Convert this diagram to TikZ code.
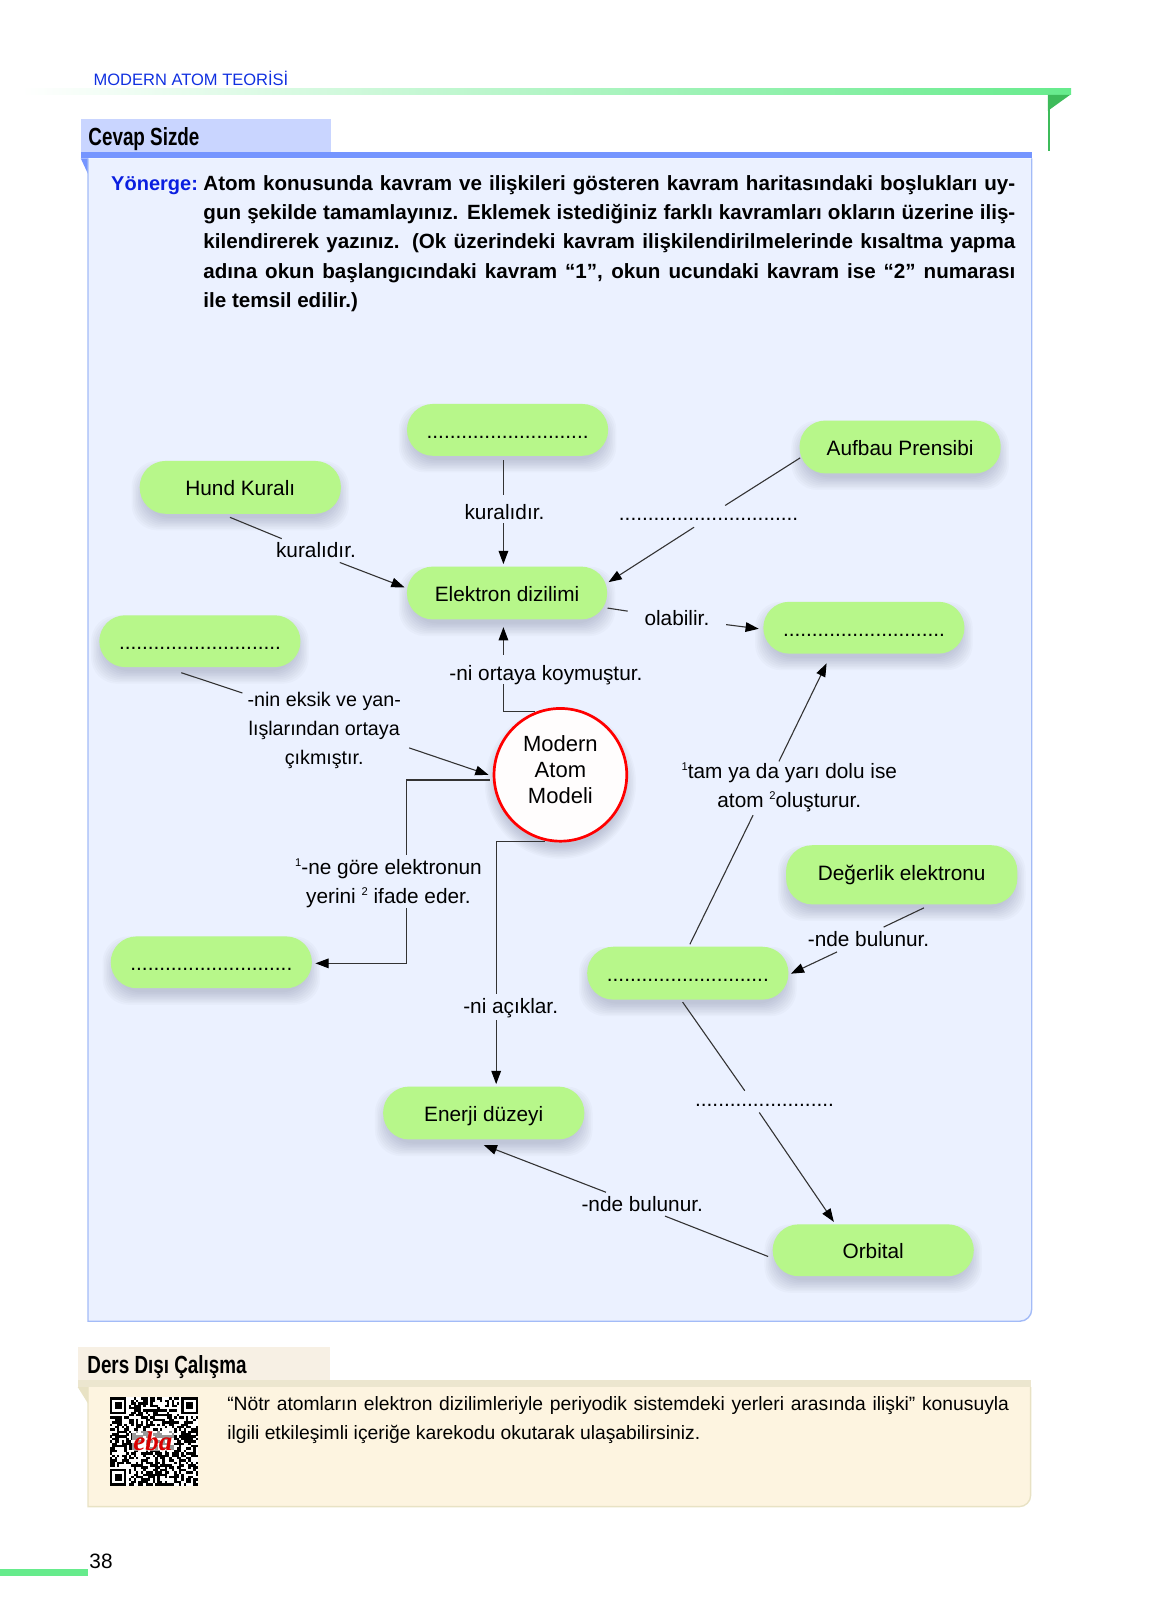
\documentclass[tikz,border=0pt]{standalone}
\usepackage{fontspec}
\setmainfont{Liberation Sans}
\newfontfamily\condfont[FakeStretch=0.76]{Liberation Sans}
\newfontfamily\serifit{Liberation Serif}
\usetikzlibrary{calc,arrows.meta,fadings}
\definecolor{pillgreen}{HTML}{B7F78A}
\definecolor{bargreen}{HTML}{66EB8C}
\definecolor{darkgreen}{HTML}{3DBB5A}
\definecolor{bandblue}{HTML}{7595FF}
\definecolor{tabblue}{HTML}{C9D5FF}
\definecolor{panelblue}{HTML}{EBF1FF}
\definecolor{edgeblue}{HTML}{A3BBF7}
\definecolor{headblue}{HTML}{1030E0}
\definecolor{taskblue}{HTML}{0A1EE0}
\definecolor{tabcream}{HTML}{F7F0E4}
\definecolor{bandcream}{HTML}{ECE6CF}
\definecolor{panelcream}{HTML}{FDF4E0}
\definecolor{edgecream}{HTML}{E8E2C4}
\definecolor{ink}{HTML}{333333}
\definecolor{shadecol}{HTML}{3A4060}
\newdimen\uu
\uu=0.5185pt
\newcommand\bodyfont{\fontsize{10.3}{14.6}\selectfont\bfseries}
\newcommand\labelfont{\fontsize{10.4}{14.5}\selectfont}
\newcommand\upnum[1]{\raisebox{0.42em}{\fontsize{5.6}{6}\selectfont #1}}
\tikzset{
  pillbox/.style={fill=pillgreen,rounded corners=25\uu,inner sep=0pt,font=\labelfont,align=center,text height=10pt,text depth=1.5pt},
  lbl/.style={inner sep=0pt,font=\labelfont,align=center,text=black},
  link/.style={draw=ink,line width=0.55pt},
  arrowlink/.style={link,-{Triangle[length=6.6pt,width=4.8pt,black]}},
  bodyline/.style={anchor=base west,inner sep=0pt,font=\bodyfont},
  noteline/.style={anchor=base west,inner sep=0pt,font=\fontsize{9.65}{14}\selectfont},
}
% #1 name, #2 x1, #3 y1, #4 x2, #5 y2, #6 text
\newcommand\softshade[4]{%
  \foreach \r in {-4,-2.5,...,8}{%
    \fill[shadecol,opacity=0.028,rounded corners=25\uu]
      (#1-\r,#2+8-\r) rectangle (#3+\r,#4+8+\r);}}
\newcommand\pillnode[6]{%
  \softshade{#2}{#3}{#4}{#5}%
  \pgfmathsetmacro\pw{#4-#2}\pgfmathsetmacro\ph{#5-#3}%
  \pgfmathsetmacro\px{(#2+#4)/2}\pgfmathsetmacro\py{(#3+#5)/2}%
  \node[pillbox,minimum width=\pw\uu,minimum height=\ph\uu] (#1) at (\px,\py) {#6};}
\begin{document}
\begin{tikzpicture}[x=0.999\uu,y=-0.999\uu]
\useasboundingbox (0,0) rectangle (1112.1,1567.8);
% page header
\node[anchor=base west,inner sep=0pt,text=headblue,font=\fontsize{8.25}{10}\selectfont] (head) at (90,82.8) {MODERN ATOM TEORİSİ};
\shade[left color=white,right color=bargreen] (20,85) rectangle (1034,91.6);
\fill[darkgreen] (1011.6,91.6) -- (1033,91.6) -- (1011.6,107) -- cycle;
\draw[darkgreen,line width=1.1pt] (1012.4,92) -- (1012.4,145.6);
% answer panel
\fill[tabblue] (78,115) rectangle (319.5,147);
\node[anchor=base west,inner sep=0pt,font=\condfont\fontsize{12.4}{14}\selectfont\bfseries] (cevap) at (85,140.5) {Cevap Sizde};
\fill[bandblue] (78,147) rectangle (996,153);
\fill[bandblue] (78,153) -- (85,153) -- (85,168) -- cycle;
\draw[edgeblue,line width=0.7pt,fill=panelblue] (85,153) -- (85,1275.5) -- (984.5,1275.5) arc[start angle=90,end angle=0,radius=11.5] -- (996,153);
\fill[bandblue] (78,147) rectangle (996,153);
% instructions
\node[bodyline,text=taskblue,font=\fontsize{10}{14}\selectfont\bfseries] (yon) at (107,183.5) {Yönerge:};
\node[bodyline] (t1) at (196,183.5) {\makebox[783\uu][s]{Atom konusunda kavram ve ilişkileri gösteren kavram haritasındaki boşlukları uy-}};
\node[bodyline] (t2) at (196,211.5) {\makebox[783\uu][s]{gun şekilde tamamlayınız. Eklemek istediğiniz farklı kavramları okların üzerine iliş-}};
\node[bodyline] (t3) at (196,239.5) {\makebox[783\uu][s]{kilendirerek yazınız. (Ok üzerindeki kavram ilişkilendirilmelerinde kısaltma yapma}};
\node[bodyline] (t4) at (196,268.6) {\makebox[783\uu][s]{adına okun başlangıcındaki kavram “1”, okun ucundaki kavram ise “2” numarası}};
\node[bodyline] (t5) at (196,297) {ile temsil edilir.)};
% concept nodes
\pillnode{topblank}{393}{390}{587}{440}{............................}
\pillnode{aufbau}{772}{406}{966}{457}{Aufbau Prensibi}
\pillnode{hund}{135}{445}{329}{496}{Hund Kuralı}
\pillnode{elektron}{393}{547}{586}{598}{Elektron dizilimi}
\pillnode{leftblank}{96}{594}{290}{644}{............................}
\pillnode{rightblank}{737}{581}{931}{631}{............................}
\pillnode{degerlik}{759}{816}{982}{873}{\raisebox{3\uu}{Değerlik elektronu}}
\pillnode{midblank}{567}{914}{761}{965}{............................}
\pillnode{lowblank}{107}{904}{301}{954}{............................}
\pillnode{enerji}{370}{1049}{564}{1100}{Enerji düzeyi}
\pillnode{orbital}{746}{1182}{940}{1232}{Orbital}
% atom circle
\foreach \r in {-4,-2.5,...,8}{\fill[shadecol,opacity=0.028] (541,756) circle[radius=65+\r];}
\node[circle,draw=red,line width=1.35pt,fill=white!97!pink,minimum size=128\uu,inner sep=0pt,align=center] (atom) at (541,748) {};
\node[lbl,font=\fontsize{11}{13}\selectfont] (atomtext) at (541,743) {Modern\\Atom\\Modeli};
% connector labels
\node[lbl] (la) at (487,494) {kuralıdır.};
\node[lbl] (lb) at (305,531.4) {kuralıdır.};
\node[lbl] (lc) at (684,501.5) {...............................};
\node[lbl] (ld) at (653.5,597) {olabilir.};
\node[lbl] (le) at (527,651.7) {-ni ortaya koymuştur.};
\node[lbl,font=\fontsize{9.85}{14.5}\selectfont] (lf) at (313,705.2) {-nin eksik ve yan-\\lışlarından ortaya\\çıkmıştır.};
\node[lbl] (lg) at (375,852.7) {\upnum{1}-ne göre elektronun\\yerini \upnum{2} ifade eder.};
\node[lbl] (lh) at (493,973) {-ni açıklar.};
\node[lbl] (li) at (762,760.2) {\upnum{1}tam ya da yarı dolu ise\\atom \upnum{2}oluşturur.};
\node[lbl] (lj) at (838.5,906.7) {-nde bulunur.};
\node[lbl] (lk) at (738,1067) {........................};
\node[lbl] (ll) at (620,1162.7) {-nde bulunur.};
% gap ends of the connectors
\coordinate (a1) at (486,478); \coordinate (a2) at (486,505);
\coordinate (b1) at (272,520); \coordinate (b2) at (328,543);
\coordinate (c1) at (700,488); \coordinate (c2) at (670,509);
\coordinate (d1) at (606,590); \coordinate (d2) at (701,603);
\coordinate (e1) at (486,660); \coordinate (e2) at (486,632);
\coordinate (f1) at (234,669); \coordinate (f2) at (395,722);
\coordinate (g1) at (392,825); \coordinate (g2) at (392,877);
\coordinate (h1) at (479,960); \coordinate (h2) at (479,985);
\coordinate (i1) at (727,787); \coordinate (i2) at (752,735);
\coordinate (j1) at (853,895); \coordinate (j2) at (808,919);
\coordinate (k1) at (719,1053); \coordinate (k2) at (733,1074);
\coordinate (l1) at (642,1174); \coordinate (l2) at (585,1151);
% connectors
\draw[link] ($(topblank.south)+(-4,4)$) -- (a1);
\draw[arrowlink] (a2) -- ($(elektron.north)+(-3.5,-2)$);
\draw[link] ($(hund.south)+(-10,3)$) -- (b1);
\draw[arrowlink] (b2) -- ($(elektron.west)+(-2,-5.5)$);
\draw[link] ($(aufbau.west)+(1,10.5)$) -- (c1);
\draw[arrowlink] (c2) -- ($(elektron.east)+(1,-10.5)$);
\draw[link] ($(elektron.east)+(0,14.5)$) -- (d1);
\draw[arrowlink] (d2) -- ($(rightblank.west)+(-4,1)$);
\draw[link] ($(atom.north)+(-25,4)$) -| (e1);
\draw[arrowlink] (e2) -- ($(elektron.south)+(-3.5,7)$);
\draw[link] ($(leftblank.south)+(-18,5)$) -- (f1);
\draw[arrowlink] (f2) -- ($(atom.west)+(-4,0)$);
\draw[link] ($(atom.west)+(-3,5)$) -| (g1);
\draw[arrowlink] (g2) |- ($(lowblank.east)+(3,1)$);
\draw[link] ($(atom.south)+(-15,-1)$) -| (h1);
\draw[arrowlink] (h2) -- ($(enerji.north)+(12,-2)$);
\draw[link] ($(midblank.north)+(2,-2)$) -- (i1);
\draw[arrowlink] (i2) -- ($(rightblank.south)+(-36,9)$);
\draw[link] ($(degerlik.south)+(21.5,3)$) -- (j1);
\draw[arrowlink] (j2) -- ($(midblank.east)+(2,0.5)$);
\draw[link] ($(midblank.south)+(-5,2)$) -- (k1);
\draw[arrowlink] (k2) -- ($(orbital.north)+(-38,-2)$);
\draw[link] ($(orbital.west)+(-4,6)$) -- (l1);
\draw[arrowlink] (l2) -- ($(enerji.south)+(0,5)$);
% outside-class panel
\fill[tabcream] (75,1300) rectangle (318.5,1332);
\node[anchor=base west,inner sep=0pt,font=\condfont\fontsize{12.4}{14}\selectfont\bfseries] (ders) at (84,1326) {Ders Dışı Çalışma};
\draw[edgecream,line width=0.7pt,fill=panelcream] (85,1339) -- (85,1454.5) -- (984,1454.5) arc[start angle=90,end angle=0,radius=11] -- (995,1339);
\fill[bandcream] (75,1332) rectangle (995.5,1339);
\fill[edgecream] (75,1339) -- (85,1339) -- (85,1355) -- cycle;
\node[noteline] (n1) at (219,1362) {\makebox[754\uu][s]{“Nötr atomların elektron dizilimleriyle periyodik sistemdeki yerleri arasında ilişki” konusuyla}};
\node[noteline] (n2) at (219,1390) {ilgili etkileşimli içeriğe karekodu okutarak ulaşabilirsiniz.};
% QR code
\fill[white] (106,1349) rectangle (191,1434.5);
\begin{scope}[shift={(106,1349)}]
\pgfmathsetseed{4242}
\foreach \i in {0,...,36}{\foreach \j in {0,...,36}{%
  \pgfmathtruncatemacro\keep{(\i<8&&\j<8)||(\i>28&&\j<8)||(\i<8&&\j>28)?0:1}%
  \pgfmathrandominteger{\coin}{0}{99}%
  \ifnum\keep=1 \ifnum\coin<50 \fill[black] (\i*2.3,\j*2.3) rectangle ++(2.35,2.35);\fi\fi
}}
\foreach \ox/\oy in {0/0,30/0,0/30}{%
  \fill[black] (\ox*2.3,\oy*2.3) rectangle ++(16.1,16.1);
  \fill[white] (\ox*2.3+2.3,\oy*2.3+2.3) rectangle ++(11.5,11.5);
  \fill[black] (\ox*2.3+4.6,\oy*2.3+4.6) rectangle ++(6.9,6.9);}
\end{scope}
\fill[white,opacity=0.6] (127,1381) rectangle (168,1401);
\node[inner sep=0pt,text=red!85!black,font=\serifit\fontsize{13.5}{14}\selectfont\bfseries\itshape] (eba) at (147.5,1391) {eba};
% folio
\node[anchor=base west,inner sep=0pt,font=\labelfont] (folio) at (86,1514) {38};
\fill[bargreen] (0,1515) rectangle (85,1521);
\end{tikzpicture}
\end{document}
